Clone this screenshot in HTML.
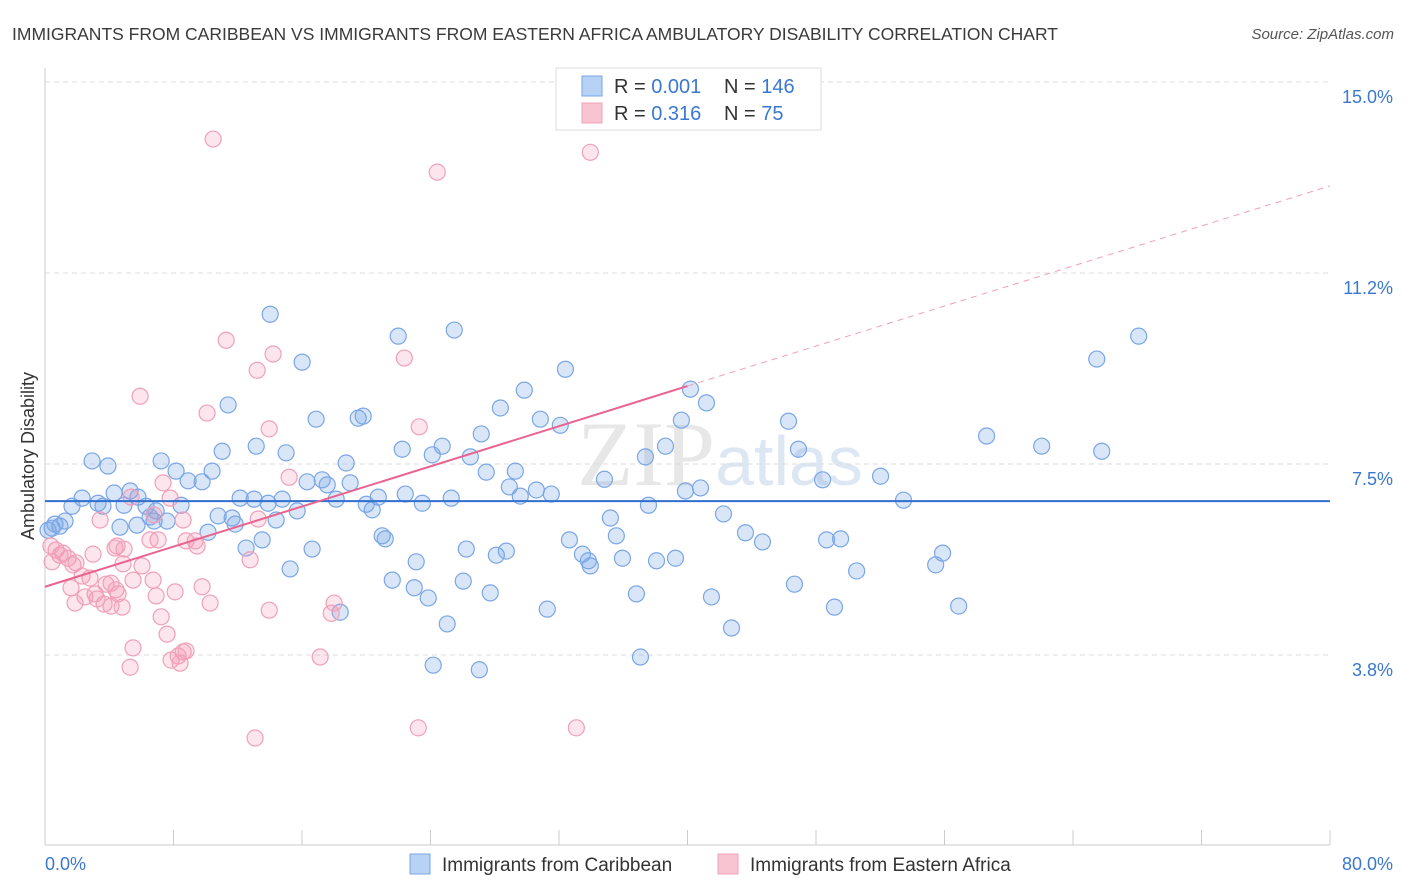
<!DOCTYPE html>
<html><head><meta charset="utf-8"><style>
body{margin:0;background:#fff;font-family:"Liberation Sans",sans-serif;}
svg{display:block}
</style></head><body>
<svg id="chart" width="1406" height="892">
<text x="12" y="40" font-size="17.5" fill="#3a3a3a">IMMIGRANTS FROM CARIBBEAN VS IMMIGRANTS FROM EASTERN AFRICA AMBULATORY DISABILITY CORRELATION CHART</text>
<text x="1394" y="39" font-size="15" fill="#555" font-style="italic" text-anchor="end">Source: ZipAtlas.com</text>
<text x="720" y="485" font-size="92" fill="#d8d8d8" text-anchor="middle" font-family="Liberation Serif,serif" opacity="0.6">ZIP<tspan fill="#c8d8ee" font-family="Liberation Sans,sans-serif" font-size="70">atlas</tspan></text>
<g id="grid"></g>
<g id="axes"></g>
<g id="pts"></g>
<g id="trend"></g>
<g>
<rect x="556" y="68" width="265" height="62" fill="#fff" stroke="#ddd"/>
<rect x="582" y="76" width="20" height="20" fill="#b8d2f5" stroke="#7aa6e6"/>
<rect x="582" y="103" width="20" height="20" fill="#f8c4d2" stroke="#f0a0b8"/>
<text x="614" y="93" font-size="20" fill="#333">R = <tspan fill="#3a78d0">0.001</tspan></text>
<text x="724" y="93" font-size="20" fill="#333">N = <tspan fill="#3a78d0">146</tspan></text>
<text x="614" y="120" font-size="20" fill="#333">R =  <tspan fill="#3a78d0">0.316</tspan></text>
<text x="724" y="120" font-size="20" fill="#333">N =   <tspan fill="#3a78d0">75</tspan></text>
</g>
<g>
<rect x="410" y="854" width="20" height="20" fill="#b8d2f5" stroke="#7aa6e6"/>
<text x="442" y="871" font-size="19" fill="#333">Immigrants from Caribbean</text>
<rect x="718" y="854" width="20" height="20" fill="#f8c4d2" stroke="#f0a0b8"/>
<text x="750" y="871" font-size="19" fill="#333">Immigrants from Eastern Africa</text>
</g>
<text transform="translate(34,456) rotate(-90)" font-size="18" fill="#333" text-anchor="middle">Ambulatory Disability</text>
</svg>
<script>
const yTicks=[3.8,7.5,11.2,15.0];
const yTickVals=[3.75,7.5,11.25,15.0];
const xTickLabels=["0.0%","80.0%"];
const blueX=[14.02,16.01,21.99,25.48,32.40,29.84,28.35,41.18,40.18,68.09,65.48,58.62,62.05,65.79,46.29,46.91,39.62,38.63,37.38,32.08,30.84,27.16,24.73,24.11,22.24,19.50,19.81,16.88,11.40,13.15,15.01,11.03,7.23,2.93,3.92,8.16,10.40,8.91,9.78,18.75,17.26,17.57,19.00,16.32,20.75,22.43,23.49,25.29,26.48,27.47,29.28,28.91,29.59,30.59,31.52,34.83,39.87,40.81,48.41,52.02,53.45,37.57,12.15,13.02,13.89,14.77,18.13,20.00,20.37,5.30,4.30,5.79,2.31,1.68,3.30,3.61,4.92,6.29,6.92,8.47,6.54,6.79,7.60,4.67,5.73,0.93,1.25,0.44,10.78,11.65,11.84,14.39,15.70,10.15,13.52,12.52,16.63,20.99,21.18,26.23,28.10,28.72,32.65,33.46,33.83,33.95,35.57,35.95,35.20,38.07,39.25,42.24,43.61,44.67,48.66,49.53,55.88,55.45,50.53,46.66,41.49,36.82,31.27,27.72,26.04,22.99,23.86,21.62,23.11,15.26,18.38,56.88,49.15,42.74,37.07,25.04,24.17,27.04,0.19,0.62];
const blueY=[10.44,9.50,10.01,10.13,9.36,8.95,8.60,8.70,8.97,10.01,9.56,8.05,7.85,7.75,8.34,7.79,8.36,7.85,7.64,8.26,8.38,8.09,7.85,7.68,7.79,8.40,8.44,8.38,8.66,7.85,7.72,7.75,7.56,7.56,7.46,7.36,7.36,7.17,7.15,7.52,7.19,7.09,7.13,7.15,6.85,6.91,6.73,6.83,7.64,7.34,7.36,7.05,6.87,6.99,6.91,7.20,6.97,7.03,7.19,7.26,6.79,6.69,6.83,6.81,6.73,6.81,6.81,6.71,6.60,6.97,6.93,6.85,6.83,6.67,6.73,6.67,6.69,6.67,6.58,6.69,6.46,6.38,6.38,6.26,6.30,6.28,6.38,6.24,6.48,6.44,6.32,6.40,6.58,6.16,6.01,5.85,5.83,6.09,6.03,5.83,5.71,5.79,6.01,5.73,5.60,5.50,6.09,5.65,6.44,5.60,5.65,6.52,6.15,5.97,6.01,6.03,5.75,5.52,5.40,5.14,4.89,4.95,4.65,4.97,5.20,5.07,4.87,5.22,5.58,5.44,4.59,4.71,4.69,4.28,3.71,4.36,3.55,3.46,6.20,6.32];
const pinkX=[10.47,24.42,33.95,11.28,14.20,22.37,13.21,5.92,10.09,23.30,13.96,15.20,7.35,7.79,5.36,8.60,13.27,6.79,3.43,7.04,8.78,9.47,4.49,4.92,2.99,0.69,1.12,1.43,0.44,1.93,1.74,12.77,6.04,4.86,5.48,3.80,4.11,2.80,1.62,6.73,9.78,8.10,3.24,4.42,6.92,1.87,2.49,3.68,4.11,4.80,13.96,18.00,17.82,7.23,7.60,5.48,8.60,8.29,8.78,7.85,8.41,5.30,17.13,13.08,23.24,33.08,0.37,0.93,2.31,3.12,10.28,9.35,4.36,4.55,6.54];
const pinkY=[13.88,13.23,13.62,9.93,9.66,9.58,9.34,8.83,8.50,8.23,8.19,7.24,7.13,6.83,6.85,6.40,6.42,6.50,6.40,6.01,5.99,5.89,5.89,5.83,5.73,5.81,5.75,5.65,5.58,5.56,5.52,5.62,5.50,5.54,5.22,5.14,5.16,5.26,5.07,5.22,5.09,4.99,4.85,5.03,4.91,4.77,4.89,4.75,4.71,4.69,4.63,4.77,4.57,4.50,4.16,3.89,3.81,3.73,3.83,3.65,3.59,3.51,3.71,2.12,2.32,2.32,5.89,5.71,5.30,4.95,4.77,5.99,5.85,4.95,6.01];
const blueTrend=[6.77,6.77];      // value at x=0 and x=80
const pinkTrend=[5.09,9.03,40];   // value at x=0, value at solid end, solid end x
const pinkTrendEnd=12.96;         // value at x=80 (dashed)

const NS="http://www.w3.org/2000/svg";
const X=v=>45+v/80*1285;
const Y=v=>655-(v-3.75)/3.75*191;
function mk(tag,attrs,parent){const e=document.createElementNS(NS,tag);for(const k in attrs)e.setAttribute(k,attrs[k]);parent.appendChild(e);return e;}
const grid=document.getElementById('grid'),axes=document.getElementById('axes'),pts=document.getElementById('pts'),trend=document.getElementById('trend');
yTickVals.forEach((v,i)=>{
  const g=mk('line',{x1:45,x2:1330,y1:Y(v),y2:Y(v),stroke:'#ddd','stroke-dasharray':'5,4'},grid);
  
  
  const t=mk('text',{x:1393,y:Y(v)+21,'font-size':18,fill:'#3a78d0','text-anchor':'end'},axes);
  t.textContent=yTicks[i].toFixed(1)+'%';
  
  
});
const ax=mk('line',{x1:45,x2:45,y1:68,y2:845,stroke:'#ccc'},axes);


const bx=mk('line',{x1:45,x2:1330,y1:845,y2:845,stroke:'#ccc'},axes);


for(let i=0;i<=10;i++){
  const tk=mk('line',{x1:X(i*8),x2:X(i*8),y1:830,y2:845,stroke:'#ccc'},axes);
  
  
}
const xl0=mk('text',{x:45,y:870,'font-size':18,fill:'#3a78d0'},axes);xl0.textContent=xTickLabels[0];


const xl1=mk('text',{x:1393,y:870,'font-size':18,fill:'#3a78d0','text-anchor':'end'},axes);xl1.textContent=xTickLabels[1];


blueX.forEach((v,i)=>{
  const c=mk('circle',{cx:X(v),cy:Y(blueY[i]),r:8,fill:'rgba(120,165,230,0.28)',stroke:'#7aa6e6','stroke-width':1.2},pts);
  
  
});
pinkX.forEach((v,i)=>{
  const c=mk('circle',{cx:X(v),cy:Y(pinkY[i]),r:8,fill:'rgba(245,150,180,0.25)',stroke:'#f0a0b8','stroke-width':1.2},pts);
  
  
});
const bl=mk('line',{x1:X(0),x2:X(80),y1:Y(blueTrend[0]),y2:Y(blueTrend[1]),stroke:'#2f6fcf','stroke-width':2},trend);


const pl=mk('line',{x1:X(0),x2:X(pinkTrend[2]),y1:Y(pinkTrend[0]),y2:Y(pinkTrend[1]),stroke:'#e8638f','stroke-width':2},trend);


const pd=mk('line',{x1:X(pinkTrend[2]),x2:X(80),y1:Y(pinkTrend[1]),y2:Y(pinkTrendEnd),stroke:'#f0a0b8','stroke-width':1,'stroke-dasharray':'6,5'},trend);


</script>
</body></html>
